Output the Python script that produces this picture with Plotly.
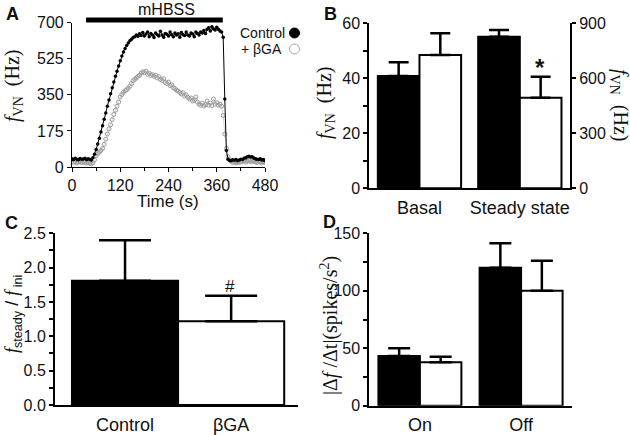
import plotly.graph_objects as go

W, H = 630, 435

# ---- panel A: firing frequency time course (one value every 4 s)
time_s = list(range(0, 481, 4))
control_hz = [
    40, 36, 42, 38, 35, 41, 37, 39, 43, 36, 40, 38, 34,
    45, 62, 85, 112, 140, 170, 200, 232, 262, 295, 325, 355, 385, 412, 440, 465,
    490, 515, 538, 558, 575, 590, 602, 612, 620, 628, 632,
    640, 634, 646, 638, 652, 636, 645, 655, 632, 648,
    640, 628, 650, 642, 636, 658, 640, 630, 648, 644,
    636, 655, 642, 632, 650, 640, 646, 630, 652, 642,
    638, 655, 640, 635, 650, 645, 632, 655, 648, 640,
    655, 650, 662, 648, 668, 675, 660, 680, 670, 665,
    678, 668, 660, 655,
    630, 330, 80, 38,
    32, 30, 35, 33, 36, 30, 34, 38, 36, 42, 45, 50, 52, 48, 50, 44, 40, 38, 36, 40, 34, 36, 30,
]
bga_hz = [
    28, 22, 26, 20, 24, 27, 21, 25, 23, 19, 22, 18, 15,
    20, 35, 55, 65, 72, 80, 90, 110, 135, 160, 185, 205, 230, 255, 275, 295,
    315, 340, 352, 362, 370, 375, 382, 392, 405, 418, 425,
    432, 440, 445, 455, 462, 458, 465, 450, 455, 445,
    448, 440, 445, 432, 438, 425, 420, 428, 410, 405,
    412, 395, 398, 385, 380, 372, 368, 362, 355, 360,
    345, 350, 338, 330, 335, 320, 325, 340, 315, 305,
    300, 310, 296, 302, 320, 300, 310, 298, 330, 305,
    312, 300, 305, 295,
    250, 160, 90, 50,
    35, 28, 22, 25, 20, 24, 22, 26, 28, 30, 24, 28, 32, 26, 30, 28, 25, 22, 28, 24, 20, 26, 22,
]
MHBSS_ON, MHBSS_OFF = 35, 375

# ---- panel B: basal (left axis) and steady state (right axis) f_VN, control vs bGA
b_groups = ["Basal", "Steady state"]
b_basal = [40.8, 48.5]
b_basal_err = [5.0, 7.9]
b_steady = [827, 494]
b_steady_err = [37, 115]

# ---- panel C: f_steady / f_ini
c_groups = ["Control", "βGA"]
c_ratio = [1.81, 1.22]
c_err = [0.59, 0.37]

# ---- panel D: |df/dt| at on and off
d_groups = ["On", "Off"]
d_control = [43.2, 120.1]
d_control_err = [6.7, 21.2]
d_bga = [37.7, 100.1]
d_bga_err = [4.9, 26.1]


def px(x):
    return x / W


def py(y):
    return 1 - y / H


SANS = "Liberation Sans"
SERIF = "Liberation Serif"
INK = "#111111"


def err(vals, w):
    return dict(type="data", array=vals, arrayminus=[0] * len(vals), symmetric=False,
                width=w, thickness=2.5, color="black")


def bar_marker(fill):
    return dict(color=fill, line=dict(color="black", width=2))


fig = go.Figure()

# A
fig.add_trace(go.Scatter(
    x=time_s, y=bga_hz, mode="lines+markers",
    line=dict(color="#c8c8c8", width=0.7),
    marker=dict(symbol="circle-open", size=4, color="#9a9a9a", line=dict(width=1)),
    xaxis="x", yaxis="y", showlegend=False))
fig.add_trace(go.Scatter(
    x=time_s, y=control_hz, mode="lines+markers",
    line=dict(color="black", width=1),
    marker=dict(symbol="circle", size=3.5, color="black"),
    xaxis="x", yaxis="y", showlegend=False))

# B
BW = 0.415
fig.add_trace(go.Bar(x=[b_groups[0]], y=[b_basal[0]], width=BW, offset=-BW,
                     marker=bar_marker("black"), error_y=err([b_basal_err[0]], 10),
                     xaxis="x2", yaxis="y2", showlegend=False))
fig.add_trace(go.Bar(x=[b_groups[0]], y=[b_basal[1]], width=BW, offset=0,
                     marker=bar_marker("white"), error_y=err([b_basal_err[1]], 10),
                     xaxis="x2", yaxis="y2", showlegend=False))
fig.add_trace(go.Bar(x=[b_groups[1]], y=[b_steady[0]], width=BW, offset=-BW,
                     marker=bar_marker("black"), error_y=err([b_steady_err[0]], 10),
                     xaxis="x2", yaxis="y3", showlegend=False))
fig.add_trace(go.Bar(x=[b_groups[1]], y=[b_steady[1]], width=BW, offset=0,
                     marker=bar_marker("white"), error_y=err([b_steady_err[1]], 10),
                     xaxis="x2", yaxis="y3", showlegend=False))

# C
fig.add_trace(go.Bar(x=c_groups, y=c_ratio, width=1.0,
                     marker=dict(color=["black", "white"], line=dict(color="black", width=2)),
                     error_y=err(c_err, 26), xaxis="x3", yaxis="y4", showlegend=False))

# D
DW = 0.41
fig.add_trace(go.Bar(x=d_groups, y=d_control, width=DW, offset=-DW,
                     marker=bar_marker("black"), error_y=err(d_control_err, 11),
                     xaxis="x4", yaxis="y5", showlegend=False))
fig.add_trace(go.Bar(x=d_groups, y=d_bga, width=DW, offset=0,
                     marker=bar_marker("white"), error_y=err(d_bga_err, 11),
                     xaxis="x4", yaxis="y5", showlegend=False))


def yax(dom, rng, dtick, minor=None, lw=2, **kw):
    d = dict(domain=dom, range=rng, dtick=dtick, tick0=0, showgrid=False, zeroline=False,
             showline=True, linecolor="black", linewidth=lw, ticks="outside", ticklen=4,
             tickwidth=lw, tickcolor="black", tickfont=dict(family=SANS, size=16, color=INK),
             fixedrange=True, automargin=False)
    if minor:
        d["minor"] = dict(dtick=minor, tick0=0, ticks="outside", ticklen=4,
                          tickwidth=lw, tickcolor="black")
    d.update(kw)
    return d


def xcat(dom, rng, anchor, cats):
    return dict(domain=dom, range=rng, anchor=anchor, showgrid=False, zeroline=False,
                showline=True, linecolor="black", linewidth=2, ticks="",
                type="category", categoryorder="array", categoryarray=cats,
                tickfont=dict(family=SANS, size=18, color=INK), ticklabelstandoff=2,
                automargin=False, fixedrange=True)


fig.update_layout(
    width=W, height=H, margin=dict(l=0, r=0, t=0, b=0),
    paper_bgcolor="white", plot_bgcolor="white", barmode="overlay",
    xaxis=dict(domain=[px(72), px(265)], range=[0, 480], anchor="y", dtick=120, tick0=0,
               showgrid=False, zeroline=False, showline=True, linecolor="black", linewidth=1.2,
               ticks="outside", ticklen=4, tickcolor="black", tickwidth=1.2,
               minor=dict(dtick=60, tick0=0, ticks="outside", ticklen=3, tickcolor="black"),
               tickfont=dict(family=SANS, size=16, color=INK), automargin=False,
               fixedrange=True),
    yaxis=yax([py(167), py(22.7)], [0, 700], 175, lw=1.2, anchor="x"),
    xaxis2=xcat([px(369.3), px(570)], [-0.5, 1.5], "y2", b_groups),
    yaxis2=yax([py(188.3), py(23.3)], [0, 60], 20, minor=10, anchor="x2"),
    yaxis3=yax([py(188.3), py(23.3)], [0, 900], 300, anchor="x2", overlaying="y2", side="right"),
    xaxis3=xcat([px(55), px(298)], [-0.66, 1.63], "y4", c_groups),
    yaxis4=yax([py(405), py(233.3)], [0, 2.5], 0.5, minor=0.25, anchor="x3", tickformat=".1f"),
    xaxis4=xcat([px(369.3), px(571.7)], [-0.5, 1.5], "y5", d_groups),
    yaxis5=yax([py(405.7), py(233.3)], [0, 150], 50, minor=25, anchor="x4"),
)

ann = []


def label(x, y, text, size=16, family=SANS, angle=0, xanchor="center", **kw):
    ann.append(dict(x=px(x), y=py(y), xref="paper", yref="paper", text=text, showarrow=False,
                    textangle=angle, xanchor=xanchor, yanchor="middle",
                    font=dict(family=family, size=size, color=INK), **kw))


FVN = "<i>f</i><sub>VN</sub>&nbsp; (Hz)"

# panel letters
label(12, 14, "<b>A</b>", size=18)
label(330, 14, "<b>B</b>", size=18)
label(11, 223, "<b>C</b>", size=18)
label(329, 222, "<b>D</b>", size=18)

# panel A extras
label(168, 202, "Time (s)", size=17)
label(166, 10, "mHBSS", size=16)
label(287, 33, "Control", size=14, xanchor="right")
label(284, 49, "+ βGA", size=14, xanchor="right")
label(13, 86, FVN, size=20, family=SERIF, angle=-90)

# panel B titles and star
label(326, 103, FVN, size=20, family=SERIF, angle=-90)
label(620, 105, FVN, size=20, family=SERIF, angle=90)
label(540, 67, "<b>*</b>", size=24)

# panel C
label(13, 314, "<span style='font-family:Liberation Serif'><i>f</i></span><sub>steady</sub> / "
               "<span style='font-family:Liberation Serif'><i>f</i></span><sub> ini</sub>",
      size=18, angle=-90)
label(230, 286, "#", size=17)

# panel D
label(329, 326, "|Δ<i>f</i> /Δt|(spikes/s<sup>2</sup>)", size=20, family=SERIF, angle=-90)

fig.update_layout(annotations=ann)

# mHBSS application bar and legend glyphs
fig.add_shape(type="line", xref="x", yref="paper", x0=MHBSS_ON, x1=MHBSS_OFF,
              y0=py(20), y1=py(20), line=dict(color="black", width=5))
fig.add_shape(type="circle", xref="paper", yref="paper", x0=px(289.5), x1=px(299.5),
              y0=py(38), y1=py(28), fillcolor="black", line=dict(color="black", width=1))
fig.add_shape(type="circle", xref="paper", yref="paper", x0=px(289.5), x1=px(299.5),
              y0=py(54), y1=py(44), fillcolor="white", line=dict(color="#aaaaaa", width=1))

# the page body keeps its default 8px margin otherwise
fig.write_html("out.html", config={"displayModeBar": False},
               post_script="document.body.style.margin='0px';")
